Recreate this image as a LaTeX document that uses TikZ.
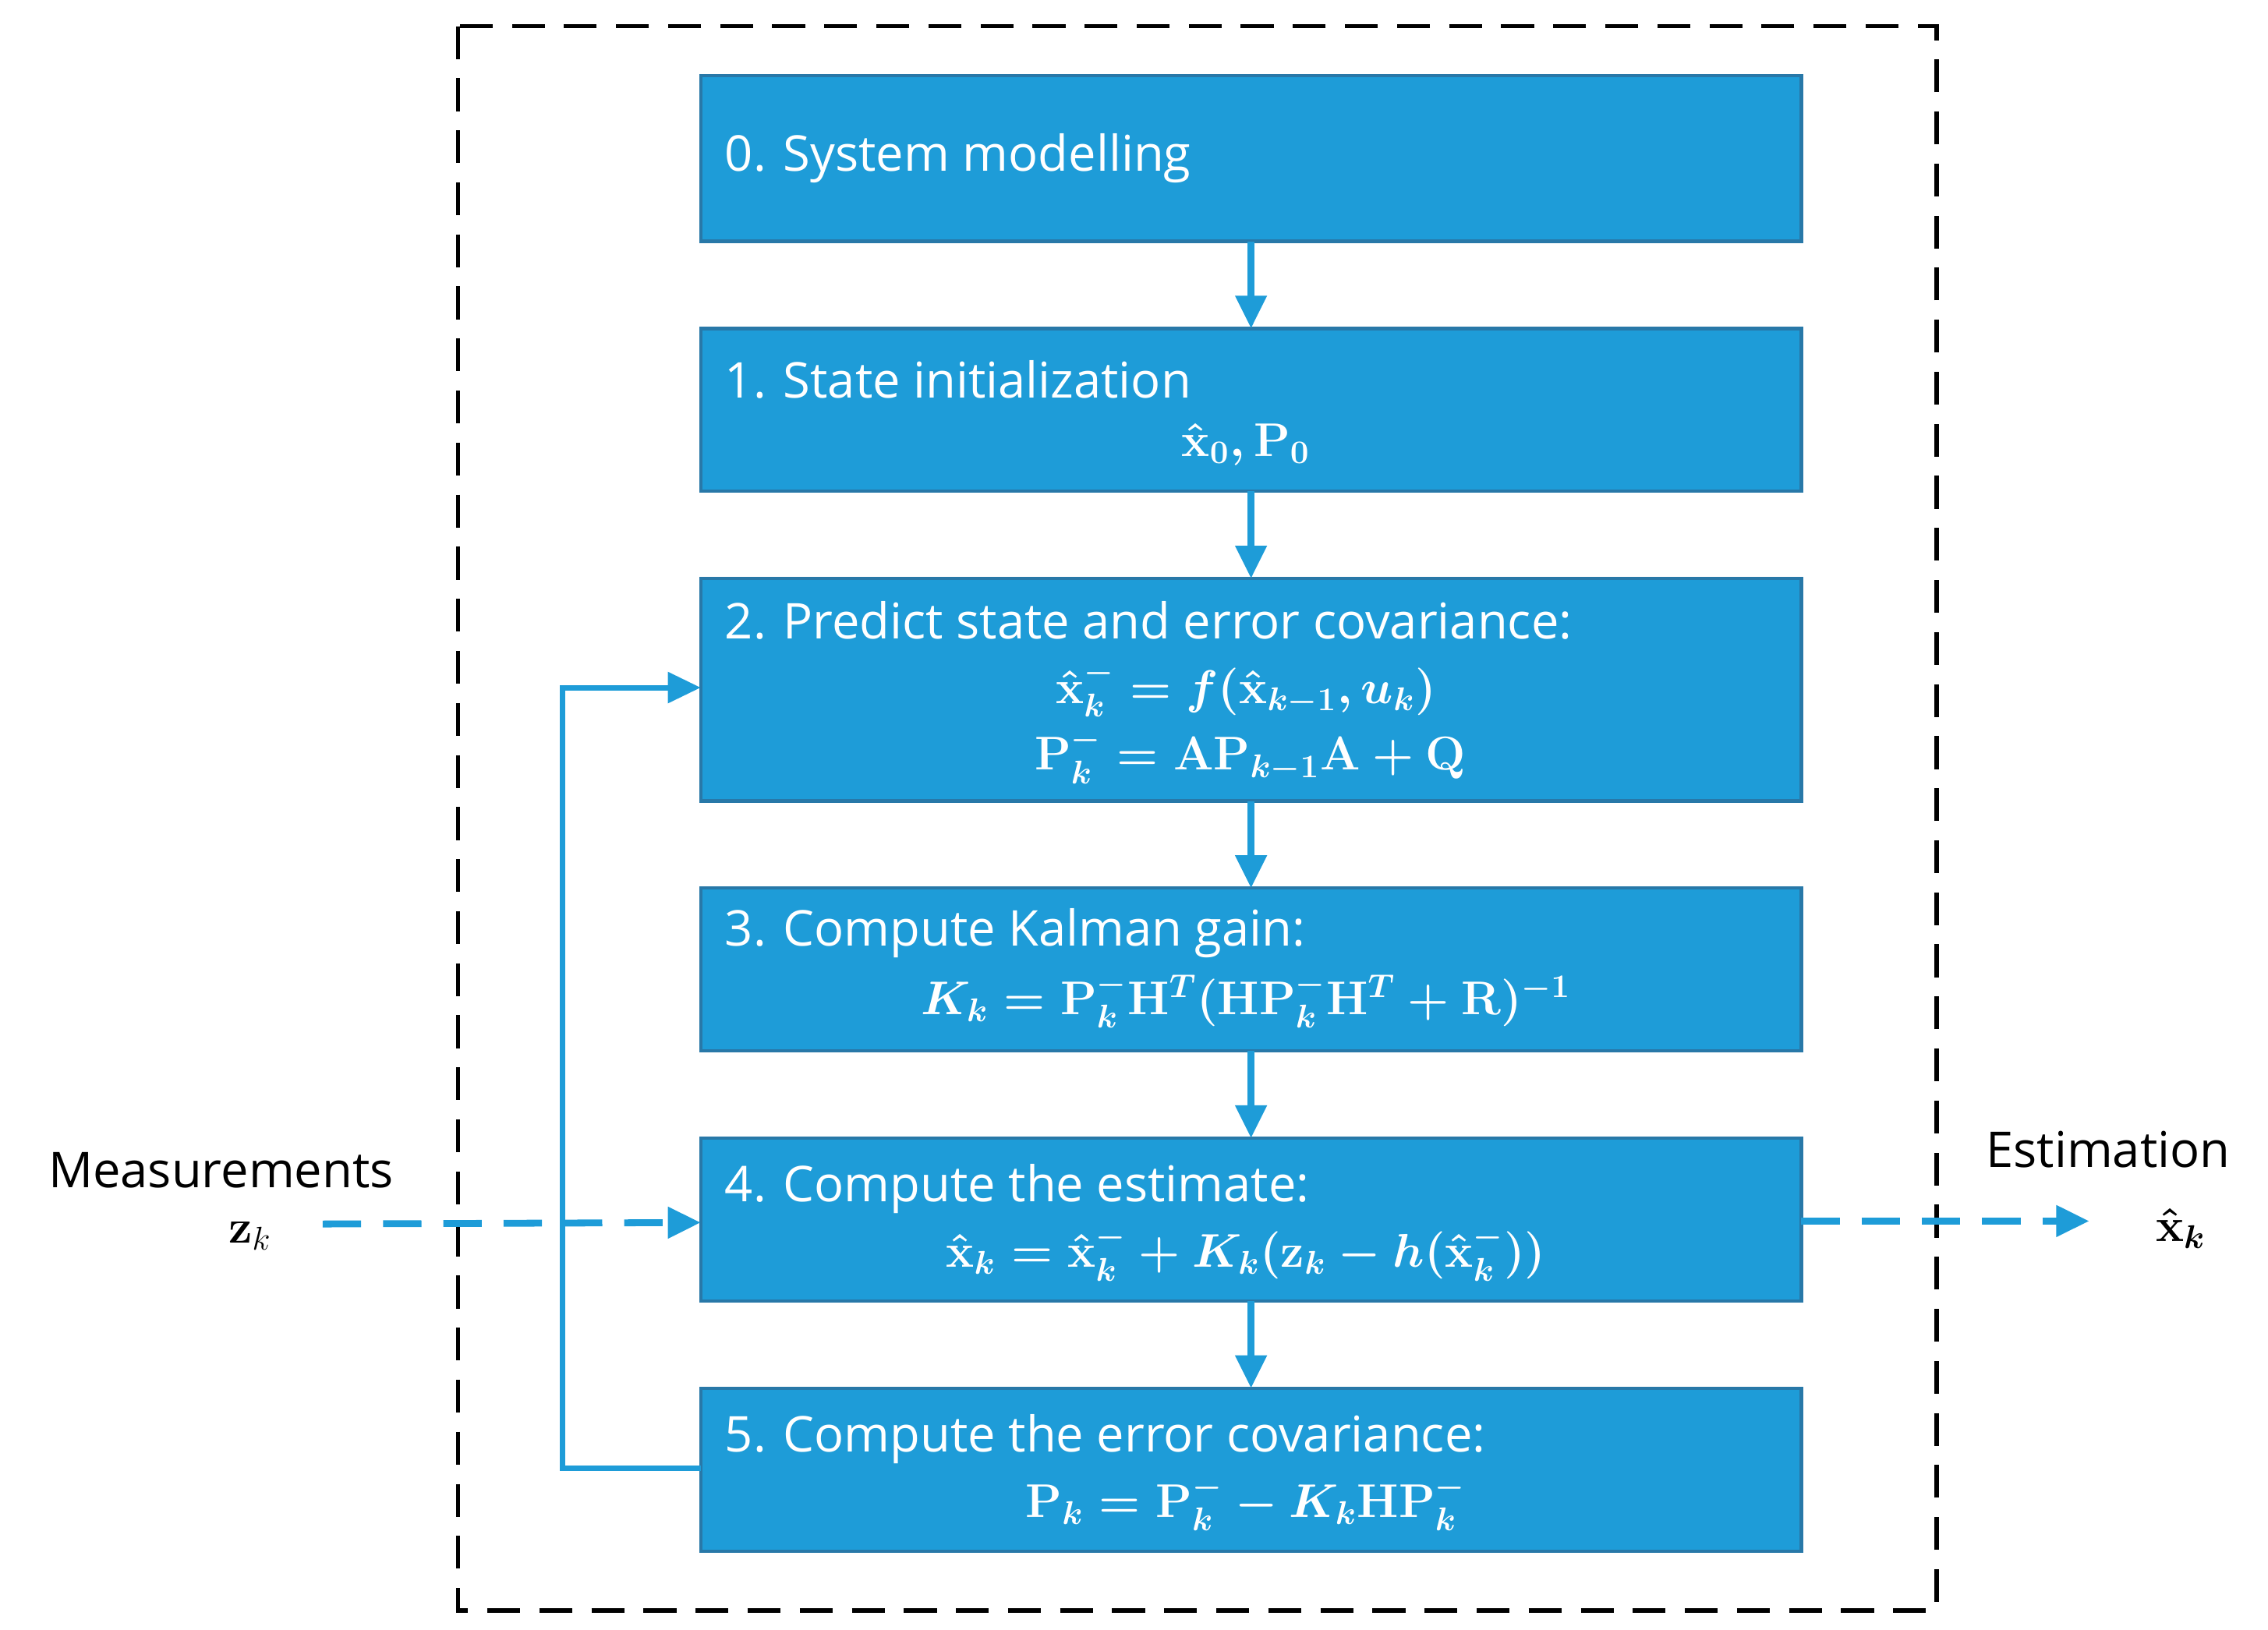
\documentclass[tikz,border=0pt]{standalone}
\usepackage{amsmath}
\usepackage[no-math]{fontspec}
\setmainfont{Open Sans}
\usetikzlibrary{arrows.meta}
\definecolor{bfill}{HTML}{1E9CD8}
\definecolor{bline}{HTML}{2878A8}
\begin{document}
\begin{tikzpicture}[x=0.01865cm,y=-0.01865cm,
 box/.style={draw=bline,line width=1.2pt,fill=bfill},
 ttl/.style={anchor=west,text=white,font=\fontsize{18}{21}\selectfont},
 fml/.style={text=white,font=\fontsize{18}{21}\selectfont\boldmath},
 arr/.style={draw=bfill,line width=2.5pt,-{Triangle[length=12pt,width=11pt]}},
 darr/.style={arr,dash pattern=on 14pt off 8pt},
 lbl/.style={font=\fontsize{18}{21}\selectfont}]
\useasboundingbox (0,0) rectangle (1560,1121);
\draw[line width=1.6pt,dash pattern=on 12pt off 7pt] (315,18) rectangle (1332,1108);
\path[box] (482,52) rectangle (1239,166);
\path[box] (482,226) rectangle (1239,338);
\path[box] (482,398) rectangle (1239,551);
\path[box] (482,611) rectangle (1239,723);
\path[box] (482,783) rectangle (1239,895);
\path[box] (482,955) rectangle (1239,1067);
\coordinate (b0bot) at (860.5,166);
\coordinate (b1t) at (860.5,226); \coordinate (b1b) at (860.5,338);
\coordinate (b2t) at (860.5,398); \coordinate (b2b) at (860.5,551); \coordinate (b2l) at (482,473);
\coordinate (b3t) at (860.5,611); \coordinate (b3b) at (860.5,723);
\coordinate (b4t) at (860.5,783); \coordinate (b4b) at (860.5,895); \coordinate (b4l) at (482,841); \coordinate (b4r) at (1239,840);
\coordinate (b5t) at (860.5,955); \coordinate (b5l) at (482,1010);
\node[ttl] (t0) at (492,109) {0. System modelling};
\node[ttl] (t1) at (492,261) {1. State initialization};
\node[fml] (f1) at (857,306) {$\hat{\mathbf{x}}_0,\mathbf{P}_0$};
\node[ttl] (t2) at (492,427) {2. Predict state and error covariance:};
\node[fml] (f2a) at (857,474) {$\hat{\mathbf{x}}_k^{-} = f(\hat{\mathbf{x}}_{k-1},u_k)$};
\node[fml] (f2b) at (860,520) {$\mathbf{P}_k^{-} = \mathbf{A}\mathbf{P}_{k-1}\mathbf{A}+\mathbf{Q}$};
\node[ttl] (t3) at (492,642) {3. Compute Kalman gain:};
\node[fml] (f3) at (857,688) {$K_k = \mathbf{P}_k^{-}\mathbf{H}^T(\mathbf{H}\mathbf{P}_k^{-}\mathbf{H}^T+\mathbf{R})^{-1}$};
\node[ttl] (t4) at (492,818) {4. Compute the estimate:};
\node[fml] (f4) at (857,862) {$\hat{\mathbf{x}}_k = \hat{\mathbf{x}}_k^{-} + K_k(\mathbf{z}_k - h(\hat{\mathbf{x}}_k^{-}))$};
\node[ttl] (t5) at (492,990) {5. Compute the error covariance:};
\node[fml] (f5) at (857,1034) {$\mathrm{P}_k = \mathbf{P}_k^{-} - K_k\mathbf{H}\mathbf{P}_k^{-}$};
\node[lbl] (m) at (152,805) {Measurements};
\node[lbl] (mz) at (172,850) {$\boldsymbol{\mathrm{z}}_k$};
\node[lbl] (e) at (1450,791) {Estimation};
\node[lbl] (ex) at (1500,845) {$\boldsymbol{\hat{\mathbf{x}}_k}$};
\coordinate (ms) at (222,842);
\coordinate (ee) at (1437,840);
\draw[arr] (b0bot) -- (b1t);
\draw[arr] (b1b) -- (b2t);
\draw[arr] (b2b) -- (b3t);
\draw[arr] (b3b) -- (b4t);
\draw[arr] (b4b) -- (b5t);
\draw[arr,line width=2pt] (b5l) -- (387,1010) -- (387,473) -- (b2l);
\draw[darr] (ms) -- (b4l);
\draw[darr] (b4r) -- (ee);
\end{tikzpicture}
\end{document}
